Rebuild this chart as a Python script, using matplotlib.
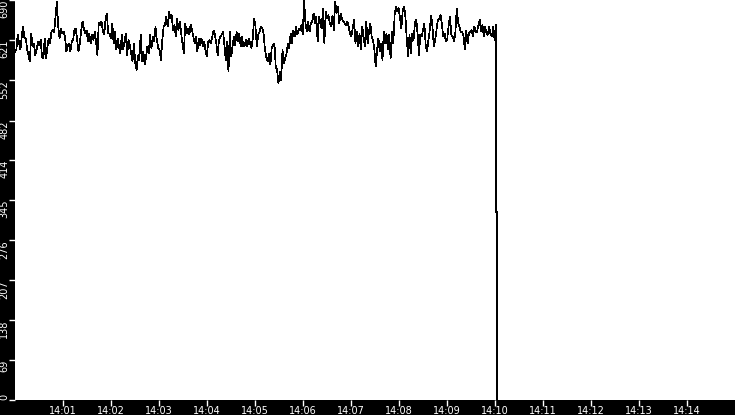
import numpy as np
import matplotlib
matplotlib.use("Agg")
import matplotlib.pyplot as plt

# ---- data ----
seg1 = [601,604,630,615,604,627,645,624,624,604,595,584,632,610,615,595,604,618,612,621,592,589,624,589,610,624,615,635,638,635,661,687,644,624,641,632,635,627,601,610,615,601,618,621,638,641,621,601,615,638,653,641,632,638,618,632,615,630,621,635,618,595,650,647,653,638,630,656,667,632]
seg2 = [632,624,650,615,635,604,624,610,598,630,604,618,632,595,621,612,598,584,615,581,569,595,586,630,584,601,578,592,610,598,630,607,627,618,644,621,607,604,586,621,644,647,661,644,670,658,664,638,647,627,658,638,653,632,615,598,650,632,641,630,647,638,627,615,627,601,624,612,624,610,618,604,592,618,621]
seg3 = [615,627,638,630,615,595,621,627,630,635,612,586,618,566,635,592,610,627,612,635,618,632,610,627,610,612,621,610,624,615,607,624,658,644,610,630,635,644,641,632,604,592,584,598,578,607,612,615,575,569,546,566,552,604,581,589,598,615,607,632,615,638,627,644,630,641,638,647,630,690,650,635,653,635,650]
seg4 = [653,667,650,661,618,661,650,641,676,615,670,658,664,650,644,664,638,687,667,679,650,667,658,653,650,647,653,644,632,627,641,656,615,635,610,632,604,644,627,610,653,615,635,650,627,621,604,575,604,624,601,615,586,635,615,632,604,630,589,635,615,664,679,670,676,658,641,673,679,661,621,592,630,598,632]
seg5 = [621,650,656,632,595,630,627,638,650,612,601,621,638,664,644,610,621,638,656,658,664,647,627,632,618,624,647,661,630,627,618,635,676,650,644,635,635,627,604,638,615,632,635,638,627,644,635,635,647,656,635,647,627,644,632,630,644,630,627,644,621,647]
drop_values = [324, 324, 0]
drop_minutes = [10.02, 10.041, 10.041]
data_end_minute = 10.02

values = seg1 + seg2 + seg3 + seg4 + seg5
minutes = list(np.linspace(0, data_end_minute, len(values)))
all_minutes = minutes + drop_minutes
all_values = values + drop_values

ytick_vals = [0, 69, 138, 207, 276, 345, 414, 482, 552, 621, 690]
xtick_labels = ["14:01", "14:02", "14:03", "14:04", "14:05", "14:06", "14:07",
                "14:08", "14:09", "14:10", "14:11", "14:12", "14:13", "14:14"]
xtick_minutes = list(range(1, 15))

# ---- figure ----
W, H = 735, 415
fig = plt.figure(figsize=(W / 100, H / 100), dpi=100, facecolor="black")
ax = fig.add_axes([15 / W, 15 / H, 720 / W, 400 / H], facecolor="white")

ax.plot(all_minutes, all_values, color="black", lw=0.5, antialiased=False,
        solid_joinstyle="miter")

ax.set_xlim(0, 15)
ax.set_ylim(0, 690)

for s in ax.spines.values():
    s.set_visible(False)

ax.set_xticks(xtick_minutes)
ax.set_xticklabels(xtick_labels)
ax.set_yticks(ytick_vals)
ax.set_yticklabels([str(v) for v in ytick_vals])

ax.tick_params(axis="x", direction="out", length=4.5, width=1, color="white",
               labelcolor="white", labelsize=7, pad=-0.5)
ax.tick_params(axis="y", direction="out", length=4, width=1, color="white",
               labelcolor="white", labelsize=7, pad=0)

for lab in ax.get_yticklabels():
    lab.set_rotation(90)
    lab.set_va("top")
    lab.set_ha("right")
ax.get_yticklabels()[0].set_va("bottom")

fig.savefig("out.png", dpi=100, facecolor="black")
